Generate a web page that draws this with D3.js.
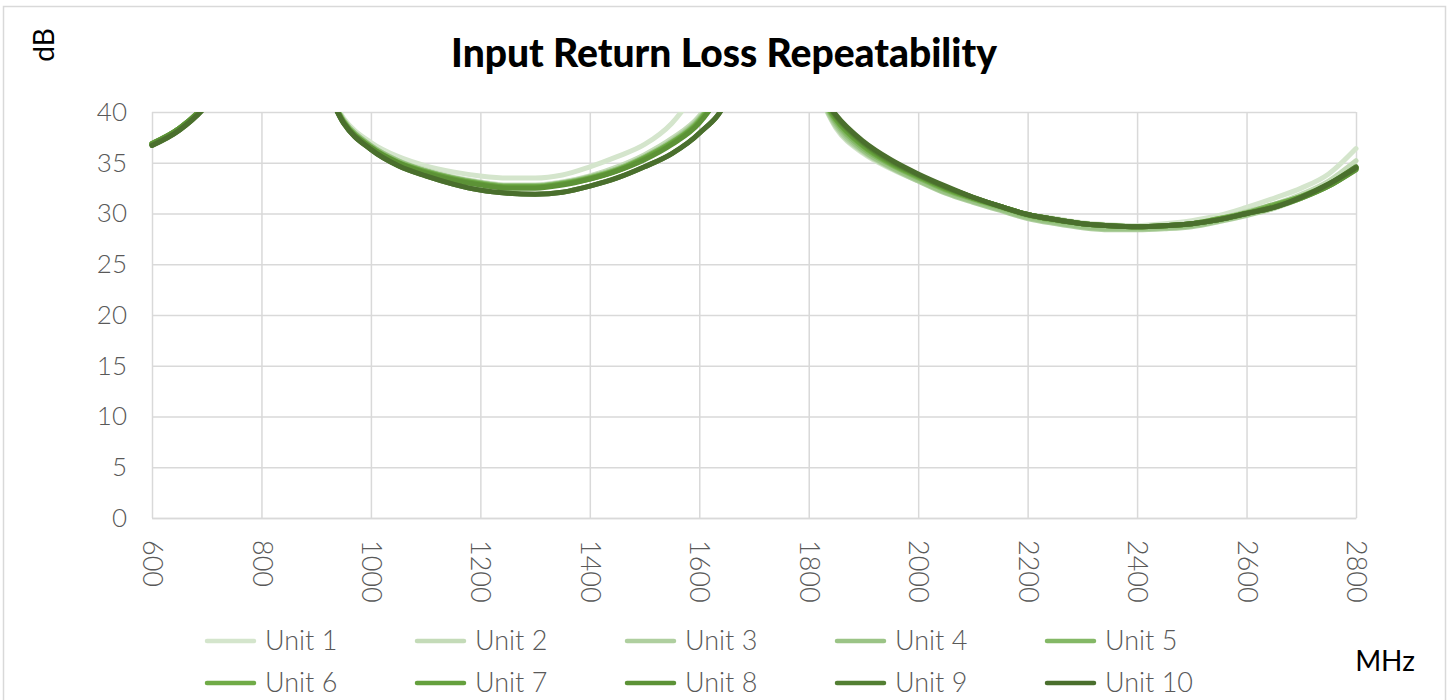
<!DOCTYPE html>
<html>
<head>
<meta charset="utf-8">
<script src="https://cdn.jsdelivr.net/npm/d3@7"></script>
<style>
  body { margin: 0; background: #fff; }
  #chart { width: 1449px; height: 700px; }
</style>
</head>
<body>
<div id="chart"></div>
<script>
/* ----------------------- Data ----------------------- */
const freqs = [600, 650, 700, 750, 800, 850, 900, 950, 1000, 1050, 1100, 1150, 1200, 1250, 1300, 1350, 1400, 1450, 1500,
    1550, 1600, 1650, 1700, 1750, 1800, 1850, 1900, 1950, 2000, 2050, 2100, 2150, 2200, 2250, 2300, 2350, 2400,
    2450, 2500, 2550, 2600, 2650, 2700, 2750, 2800];

const unitNames = ["Unit 1", "Unit 2", "Unit 3", "Unit 4", "Unit 5", "Unit 6", "Unit 7", "Unit 8", "Unit 9", "Unit 10"];

const unit1 = [36.8, 38.3, 40.8, 45, 49, 48, 44.5, 39.4, 37.0, 35.6, 34.7, 34.1, 33.7, 33.5, 33.5, 33.8, 34.6, 35.6, 36.8,
    38.9, 42.5, 47, 50, 50, 44, 38.4, 35.9, 34.4, 33.2, 32.2, 31.3, 30.6, 29.9, 29.5, 29.1, 28.9, 28.8,
    29.0, 29.3, 29.8, 30.6, 31.5, 32.5, 33.9, 36.4];
const unit2 = [36.9, 38.4, 40.9, 45, 49, 48, 44.5, 39.2, 36.7, 35.2, 34.3, 33.6, 33.1, 32.8, 32.8, 33.1, 33.7, 34.6, 35.8,
    37.4, 39.6, 44, 50, 50, 44, 38.5, 36.0, 34.5, 33.3, 32.2, 31.3, 30.5, 29.8, 29.3, 28.9, 28.7, 28.6,
    28.7, 29.0, 29.5, 30.2, 30.9, 31.9, 33.2, 35.2];
const unit3 = [36.8, 38.3, 40.7, 45, 49, 48, 44.5, 39.1, 36.6, 35.1, 34.2, 33.5, 33.0, 32.7, 32.7, 33.0, 33.6, 34.4, 35.6,
    37.2, 39.4, 43.5, 50, 50, 44, 38.6, 36.1, 34.5, 33.2, 32.0, 31.1, 30.3, 29.5, 29.0, 28.6, 28.4, 28.4,
    28.5, 28.7, 29.2, 29.8, 30.5, 31.5, 32.7, 34.4];
const unit4 = [36.9, 38.4, 40.8, 45, 49, 48, 44.5, 39.2, 36.7, 35.2, 34.2, 33.5, 33.0, 32.7, 32.7, 33.0, 33.6, 34.4, 35.6,
    37.1, 39.3, 43.5, 50, 50, 44, 38.8, 36.2, 34.6, 33.3, 32.1, 31.2, 30.4, 29.6, 29.1, 28.7, 28.5, 28.5,
    28.6, 28.8, 29.3, 29.9, 30.6, 31.5, 32.8, 34.5];
const unit5 = [36.8, 38.3, 40.8, 45, 49, 48, 44.5, 39.1, 36.6, 35.1, 34.2, 33.5, 33.0, 32.7, 32.7, 33.0, 33.5, 34.3, 35.5,
    37.0, 39.2, 43.5, 50, 50, 44, 39.0, 36.4, 34.8, 33.5, 32.3, 31.4, 30.6, 29.8, 29.3, 29.0, 28.8, 28.7,
    28.8, 29.0, 29.5, 30.1, 30.9, 31.7, 32.9, 34.6];
const unit6 = [36.9, 38.4, 40.9, 45, 49, 48, 44.5, 39.0, 36.5, 35.0, 34.1, 33.4, 32.9, 32.6, 32.6, 32.9, 33.5, 34.3, 35.5,
    37.0, 39.1, 43.5, 50, 50, 44, 39.2, 36.6, 34.9, 33.6, 32.4, 31.5, 30.7, 29.9, 29.4, 29.0, 28.8, 28.7,
    28.8, 29.0, 29.5, 30.0, 30.8, 31.7, 32.8, 34.5];
const unit7 = [36.8, 38.4, 40.8, 45, 49, 48, 44.5, 39.0, 36.5, 35.0, 34.1, 33.4, 32.9, 32.6, 32.6, 32.9, 33.4, 34.2, 35.4,
    36.9, 39.0, 43, 50, 50, 44, 39.3, 36.7, 35.0, 33.7, 32.5, 31.5, 30.7, 29.9, 29.4, 29.0, 28.8, 28.7,
    28.8, 29.0, 29.4, 30.0, 30.7, 31.6, 32.7, 34.4];
const unit8 = [36.9, 38.4, 40.9, 45, 49, 48, 44.5, 39.0, 36.5, 35.0, 34.0, 33.3, 32.8, 32.5, 32.5, 32.8, 33.4, 34.2, 35.3,
    36.8, 38.9, 43, 50, 50, 44, 39.5, 36.9, 35.1, 33.8, 32.6, 31.6, 30.7, 29.9, 29.4, 29.0, 28.8, 28.7,
    28.8, 29.0, 29.4, 30.0, 30.6, 31.5, 32.7, 34.3];
const unit9 = [36.7, 38.2, 40.7, 45, 49, 48, 44.5, 38.9, 36.3, 34.7, 33.7, 32.9, 32.3, 32.0, 31.9, 32.1, 32.7, 33.5, 34.6,
    35.9, 37.9, 41.2, 50, 50, 44, 39.6, 37.0, 35.2, 33.8, 32.6, 31.6, 30.7, 29.9, 29.4, 29.0, 28.8, 28.7,
    28.8, 29.0, 29.4, 30.0, 30.6, 31.6, 32.9, 34.6];
const unit10 = [36.7, 38.2, 40.7, 45, 49, 48, 44.5, 38.9, 36.3, 34.7, 33.7, 32.9, 32.3, 32.0, 31.9, 32.1, 32.7, 33.5, 34.6,
    35.9, 37.9, 41.2, 50, 50, 44, 39.7, 37.1, 35.3, 33.9, 32.7, 31.6, 30.7, 29.9, 29.4, 29.0, 28.8, 28.7,
    28.8, 29.0, 29.4, 30.0, 30.6, 31.6, 32.9, 34.5];

const unitValues = [unit1, unit2, unit3, unit4, unit5, unit6, unit7, unit8, unit9, unit10];
const unitColors = ["#d4e5cc", "#c4dbb8", "#afcf9f", "#9bc486", "#84b866", "#70ab47", "#65a03d", "#5c9236", "#537f33", "#4a6f2d"];

const xTicks = [600, 800, 1000, 1200, 1400, 1600, 1800, 2000, 2200, 2400, 2600, 2800];
const yTicks = [0, 5, 10, 15, 20, 25, 30, 35, 40];

/* ----------------------- Dimensions ----------------------- */
const W = 1449, H = 700;
const margin = { top: 112, right: 93, bottom: 182, left: 152 };
const width = W - margin.left - margin.right;
const height = H - margin.top - margin.bottom;
const font = "Futura, 'Century Gothic', Lato, sans-serif";

const svgRoot = d3.select("#chart").append("svg")
    .attr("width", W)
    .attr("height", H);

// chart frame
svgRoot.append("rect")
    .attr("x", 3.5).attr("y", 6.5)
    .attr("width", W - 7).attr("height", H + 10)
    .attr("fill", "#fff")
    .attr("stroke", "#d9d9d9")
    .attr("stroke-width", 1.5);

const svg = svgRoot.append("g")
    .attr("transform", `translate(${margin.left},${margin.top})`);

/* ----------------------- Scales and axes ----------------------- */
const x = d3.scaleLinear().domain([600, 2800]).range([0, width]);
const y = d3.scaleLinear().domain([0, 40]).range([height, 0]);

// horizontal grid + y labels
const yAxis = svg.append("g")
    .call(d3.axisLeft(y).tickValues(yTicks).tickSize(-width).tickPadding(25));
yAxis.select(".domain").remove();
yAxis.selectAll("line").attr("stroke", "#d9d9d9").attr("stroke-width", 1.5);
yAxis.selectAll("text")
    .attr("fill", "#595959")
    .style("font-family", font)
    .style("font-size", "26px")
    .style("font-weight", 300);

// vertical grid
const xGrid = svg.append("g")
    .attr("transform", `translate(0,${height})`)
    .call(d3.axisBottom(x).tickValues(xTicks).tickSize(-height).tickFormat(""));
xGrid.select(".domain").remove();
xGrid.selectAll("line").attr("stroke", "#d9d9d9").attr("stroke-width", 1.5);

// x axis labels
const xAxis = svg.append("g")
    .attr("transform", `translate(0,${height})`)
    .call(d3.axisBottom(x).tickValues(xTicks).tickSize(0).tickFormat(d3.format("d")));
xAxis.select(".domain").attr("stroke", "#d9d9d9").attr("stroke-width", 1.5);
xAxis.selectAll("text")
    .attr("transform", "rotate(90)")
    .attr("x", 22)
    .attr("y", 0)
    .attr("dy", "0.35em")
    .style("text-anchor", "start")
    .attr("fill", "#595959")
    .style("font-family", font)
    .style("font-size", "27px")
    .style("font-weight", 300);

/* ----------------------- Lines ----------------------- */
svg.append("clipPath").attr("id", "plot-clip")
    .append("rect")
    .attr("x", -3).attr("y", 0)
    .attr("width", width + 6).attr("height", height);

const line = d3.line()
    .x((d, i) => x(freqs[i]))
    .y(d => y(d))
    .curve(d3.curveMonotoneX);

svg.append("g")
    .attr("clip-path", "url(#plot-clip)")
    .selectAll("path")
    .data(unitValues)
    .enter().append("path")
    .attr("d", d => line(d))
    .attr("fill", "none")
    .attr("stroke", (d, i) => unitColors[i])
    .attr("stroke-width", 5)
    .attr("stroke-linejoin", "round")
    .attr("stroke-linecap", "round");

/* ----------------------- Titles ----------------------- */
svgRoot.append("text")
    .attr("x", 724).attr("y", 67)
    .attr("text-anchor", "middle")
    .style("font-family", font)
    .style("font-size", "39px")
    .style("font-weight", 900)
    .attr("fill", "#000")
    .text("Input Return Loss Repeatability");

svgRoot.append("text")
    .attr("transform", "translate(54,45) rotate(-90)")
    .attr("text-anchor", "middle")
    .style("font-family", font)
    .style("font-size", "28px")
    .attr("fill", "#000")
    .text("dB");

svgRoot.append("text")
    .attr("x", 1385).attr("y", 671)
    .attr("text-anchor", "middle")
    .style("font-family", font)
    .style("font-size", "28px")
    .attr("fill", "#000")
    .text("MHz");

/* ----------------------- Legend ----------------------- */
const legend = svgRoot.append("g")
    .selectAll("g")
    .data(unitNames)
    .enter().append("g")
    .attr("transform", (d, i) => `translate(${207 + (i % 5) * 210},${641 + Math.floor(i / 5) * 42})`);

legend.append("line")
    .attr("x1", 0).attr("x2", 47)
    .attr("stroke", (d, i) => unitColors[i])
    .attr("stroke-width", 4.5)
    .attr("stroke-linecap", "round");

legend.append("text")
    .attr("x", 58)
    .attr("dy", "0.35em")
    .attr("fill", "#595959")
    .style("font-family", font)
    .style("font-size", "27px")
    .style("font-weight", 300)
    .text(d => d);
</script>
</body>
</html>
